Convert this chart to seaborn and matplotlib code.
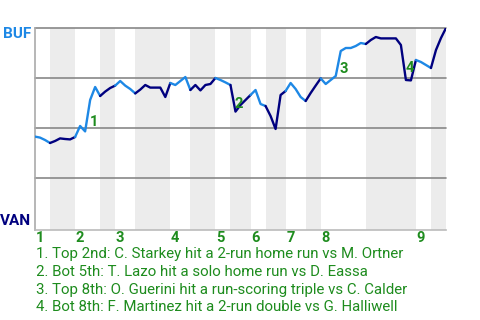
import matplotlib
matplotlib.use("Agg")
import matplotlib.pyplot as plt
import seaborn as sns
import pandas as pd
import numpy as np

# Win probability (BUF, %) after each plate appearance
wp = [45.7, 45.2, 44.0, 42.5, 43.5, 44.8, 44.5, 44.3, 45.5, 51.0,
      48.3, 64.0, 70.5, 66.0, 68.2, 70.0, 71.2, 73.5, 71.2, 69.5,
      67.3, 69.2, 71.5, 70.2, 70.2, 70.2, 65.5, 72.5, 71.5, 73.5,
      75.5, 69.0, 71.5, 68.8, 71.5, 72.0, 75.0, 74.0, 72.8, 71.5,
      58.2, 61.5, 64.0, 66.5, 69.0, 62.0, 61.0, 56.0, 49.5, 66.5,
      68.5, 72.5, 69.5, 65.5, 63.5, 67.5, 71.2, 74.8, 72.0, 74.0,
      76.0, 88.5, 90.0, 90.0, 91.0, 92.5, 92.0, 94.0, 95.5, 94.8,
      94.8, 94.8, 94.8, 91.5, 74.0, 73.8, 84.0, 83.0, 81.5, 80.0,
      89.0, 95.0, 100.0]

# half-inning boundaries (plate appearance index)
half_bounds = [0, 3, 8, 13, 16, 20, 27, 31, 36, 39, 43, 46, 50, 54, 57, 66, 76, 79, 82]
inning_labels = ["1", "2", "3", "4", "5", "6", "7", "8", "9"]

# key events: plate appearance index where the event starts
event_start = [10, 39, 60, 73]
event_labels = ["1", "2", "3", "4"]
event_texts = [
    "1. Top 2nd: C. Starkey hit a 2-run home run vs M. Ortner",
    "2. Bot 5th: T. Lazo hit a solo home run vs D. Eassa",
    "3. Top 8th: O. Guerini hit a run-scoring triple vs C. Calder",
    "4. Bot 8th: F. Martinez hit a 2-run double vs G. Halliwell",
]
teams = ["BUF", "VAN"]

BUF_C = "#1E88E5"
VAN_C = "#00007F"
GREEN = "#1E8C1E"
SHADE = "#ECECEC"

sns.set_theme(style="white")
plt.rcParams['font.family'] = ['Roboto', 'DejaVu Sans']

fig = plt.figure(figsize=(4.8, 3.2), dpi=100)
ax = fig.add_axes([35/480, 1-230/320, 411/480, 202/320])
ax.set_xlim(0, 82)
ax.set_ylim(-1, 100)

# shaded bottom halves
for k in range(len(half_bounds) - 1):
    if k % 2 == 1:
        ax.axvspan(half_bounds[k], half_bounds[k+1], color=SHADE, lw=0, zorder=0)

for g in [25, 50, 75, 100]:
    ax.axhline(g, color="#888888", lw=1.2, zorder=1, clip_on=False)

df = pd.DataFrame({"pa": np.arange(len(wp)), "wp": wp})
for k in range(len(half_bounds) - 1):
    a, b = half_bounds[k], half_bounds[k+1]
    seg = df.iloc[a:b+1]
    sns.lineplot(data=seg, x="pa", y="wp", ax=ax, color=BUF_C if k % 2 == 0 else VAN_C,
                 lw=1.7, zorder=3, sort=False, estimator=None)

for s in ["top", "right"]:
    ax.spines[s].set_visible(False)
ax.spines["left"].set_color("#AAAAAA")
ax.spines["bottom"].set_color("#BBBBBB")
ax.spines["left"].set_linewidth(1.2)
ax.spines["bottom"].set_linewidth(1.2)
ax.set_xticks([])
ax.set_yticks([])
ax.set_xlabel("")
ax.set_ylabel("")

# event markers
for s, lab in zip(event_start, event_labels):
    xm = s + 0.5
    ym = (wp[s] + wp[s+1]) / 2
    ax.annotate(lab, (xm, ym), xytext=(4.3, -4.3), textcoords="offset points",
                ha="center", va="center", color=GREEN, fontsize=10.5, fontweight="bold", zorder=4)

# inning labels
tops = half_bounds[0:-1:2]
for pos, lab in zip(tops, inning_labels):
    ax.text(pos + 0.15, -8/202, lab, transform=ax.get_xaxis_transform(), ha="left", va="center",
            color=GREEN, fontsize=10.5, fontweight="bold")

fig.text(31/480, 1-34.2/320, teams[0], ha="right", va="center", color=BUF_C, fontsize=11, fontweight="bold")
fig.text(31/480, 1-221/320, teams[1], ha="right", va="center", color=VAN_C, fontsize=11, fontweight="bold")

for j, t in enumerate(event_texts):
    fig.text(36/480, 1-(254 + 17.8*j)/320, t, ha="left", va="center", color=GREEN, fontsize=10.8)

fig.savefig("out.png", dpi=100)
